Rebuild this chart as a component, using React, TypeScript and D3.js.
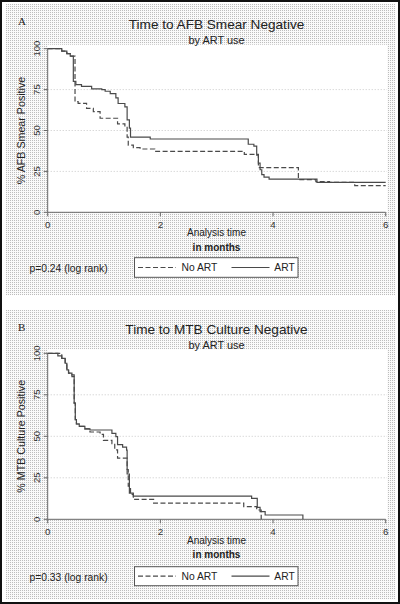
import React from "react";
import * as d3 from "d3";

const monthTicks = [0, 2, 4, 6];
const pctTicks = [0, 25, 50, 75, 100];
const gridTicks = [25, 50, 75];

const aArtTime = [0, 0.25, 0.34, 0.40, 0.455, 0.50, 0.60, 0.78, 0.96, 1.02, 1.11, 1.21, 1.25, 1.37, 1.41, 1.45, 1.47, 1.82, 3.56, 3.66, 3.71, 3.74, 3.77, 3.80, 3.84, 3.93, 4.78, 6];
const aArtPct = [100, 98.5, 97, 95.5, 80, 78, 77, 75.5, 75, 74, 72.5, 70, 66.5, 64.5, 56.5, 51.5, 46, 44.8, 41.6, 40.4, 35, 30, 26, 23, 21.5, 20.3, 18.3, 18.3];
const aNoArtTime = [0, 0.25, 0.34, 0.40, 0.485, 0.54, 0.69, 0.81, 0.93, 1.24, 1.37, 1.41, 1.43, 1.52, 1.64, 1.90, 3.49, 3.74, 4.45, 4.76, 5.0, 5.45, 6];
const aNoArtPct = [100, 98.5, 97, 95.5, 67.6, 66.6, 63.5, 61.5, 57.5, 54, 52.3, 46, 41, 39.5, 38.7, 37.3, 35.4, 27.3, 20, 18.7, 18.3, 16.3, 16.3];

const bArtTime = [0, 0.18, 0.25, 0.31, 0.34, 0.37, 0.43, 0.47, 0.49, 0.51, 0.56, 0.66, 0.75, 1.14, 1.21, 1.24, 1.33, 1.40, 1.41, 1.45, 1.52, 3.62, 3.72, 3.77, 3.86, 4.53];
const bArtPct = [100, 98.5, 97, 94, 90, 88, 87, 70, 60, 57.4, 56, 54.5, 53.8, 51.8, 49.8, 45, 43.5, 41.7, 27.3, 15.8, 14, 12.6, 7.2, 4.6, 2.6, 0];
const bNoArtTime = [0, 0.25, 0.31, 0.34, 0.37, 0.43, 0.47, 0.49, 0.51, 0.56, 0.66, 0.75, 0.93, 0.99, 1.14, 1.19, 1.24, 1.41, 1.43, 1.47, 1.52, 1.88, 3.48, 3.71, 3.79];
const bNoArtPct = [100, 97, 93, 90, 88, 86, 70, 60, 57.4, 56, 54.5, 52.6, 51.2, 47.6, 45.6, 41.8, 36.8, 30, 20, 15, 12, 9.8, 7.6, 5.6, 0];

const panelLetters = ["A", "B"];
const titles = ["Time to AFB Smear Negative", "Time to MTB Culture Negative"];
const subtitle = "by ART use";
const yTitles = ["% AFB Smear Positive", "% MTB Culture Positive"];
const xTitle = "Analysis time";
const xSubtitle = "in months";
const pValues = ["p=0.24 (log rank)", "p=0.33 (log rank)"];
const seriesNames = ["No ART", "ART"];

const FONT = "'Liberation Sans', Arial, sans-serif";
const LINE = "#4a4a4a";
const AXIS = "#666";

type Layout = {
  top: number; bottom: number; title: number; sub: number; letter: number;
  tick: number; xt: number; xs: number; legTop: number; legBot: number; p: number;
  bgTop: number; bgBot: number;
};

const layouts: Layout[] = [
  { top: 48.7, bottom: 212.3, title: 28.8, sub: 43.6, letter: 25, tick: 228, xt: 235.5, xs: 250.5, legTop: 257.7, legBot: 277.3, p: 271.5, bgTop: 4, bgBot: 295 },
  { top: 353.3, bottom: 519.3, title: 334.3, sub: 348.8, letter: 330.5, tick: 535.3, xt: 543.8, xs: 558.3, legTop: 566.7, legBot: 585.7, p: 580.5, bgTop: 310, bgBot: 599 },
];

function Panel({ idx, art, noArt }: { idx: number; art: [number, number][]; noArt: [number, number][] }) {
  const L = layouts[idx];
  const x = d3.scaleLinear().domain([0, 6]).range([47.7, 385.7]);
  const y = d3.scaleLinear().domain([0, 100]).range([L.bottom, L.top]);
  const line = d3.line<[number, number]>().x(d => x(d[0])).y(d => y(d[1])).curve(d3.curveStepAfter);
  const midY = (L.top + L.bottom) / 2;
  const legMid = (L.legTop + L.legBot) / 2;
  const legTextY = legMid + 3.8;
  return (
    <g>
      <rect x={6} y={L.bgTop} width={389} height={L.bgBot - L.bgTop} fill="url(#dots)" />
      <rect x={x(0)} y={L.top - 4} width={387 - x(0)} height={L.bottom - L.top + 4} fill="#fff" />
      {gridTicks.map(t => (
        <line key={t} x1={x(0)} x2={387} y1={y(t)} y2={y(t)} stroke="#c8c8c8" strokeWidth={1} strokeDasharray="1,2" />
      ))}
      <text x={18} y={L.letter} fontFamily="'Liberation Serif', 'Times New Roman', serif" fontSize={11} fill="#222">{panelLetters[idx]}</text>
      <text x={216.5} y={L.title} textAnchor="middle" fontFamily={FONT} fontSize={13.6} fill="#222">{titles[idx]}</text>
      <text x={216.5} y={L.sub} textAnchor="middle" fontFamily={FONT} fontSize={10.9} fill="#222">{subtitle}</text>
      {/* axes */}
      <line x1={x(0)} x2={x(0)} y1={y(0)} y2={y(100)} stroke={AXIS} strokeWidth={1} />
      <line x1={x(0)} x2={x(6)} y1={y(0)} y2={y(0)} stroke={AXIS} strokeWidth={1} />
      {pctTicks.map(t => (
        <g key={t}>
          <line x1={x(0) - 4} x2={x(0)} y1={y(t)} y2={y(t)} stroke={AXIS} />
          <text transform={`translate(39.5,${y(t)}) rotate(-90)`} textAnchor="middle" fontFamily={FONT} fontSize={9.5} fill="#333">{t}</text>
        </g>
      ))}
      {monthTicks.map(t => (
        <g key={t}>
          <line x1={x(t)} x2={x(t)} y1={y(0)} y2={y(0) + 4} stroke={AXIS} />
          <text x={x(t)} y={L.tick} textAnchor="middle" fontFamily={FONT} fontSize={9.8} fill="#333">{t}</text>
        </g>
      ))}
      <text transform={`translate(25,${midY}) rotate(-90)`} textAnchor="middle" fontFamily={FONT} fontSize={10.7} fill="#222">{yTitles[idx]}</text>
      <text x={216.5} y={L.xt} textAnchor="middle" fontFamily={FONT} fontSize={10} fill="#222">{xTitle}</text>
      <text x={216.5} y={L.xs} textAnchor="middle" fontFamily={FONT} fontSize={10} fontWeight="bold" fill="#222">{xSubtitle}</text>
      {/* curves */}
      <path d={line(noArt) || ""} fill="none" stroke={LINE} strokeWidth={1.2} strokeDasharray="5,2.5" />
      <path d={line(art) || ""} fill="none" stroke={LINE} strokeWidth={1.2} />
      {/* legend */}
      <text x={29.5} y={L.p} fontFamily={FONT} fontSize={10.3} fill="#222">{pValues[idx]}</text>
      <rect x={134.5} y={L.legTop} width={163.5} height={L.legBot - L.legTop} fill="#fff" stroke="#555" strokeWidth={1} />
      <line x1={138} x2={176} y1={legMid} y2={legMid} stroke={LINE} strokeWidth={1.2} strokeDasharray="5,2.5" />
      <text x={181.5} y={legTextY} fontFamily={FONT} fontSize={10.3} fill="#222">{seriesNames[0]}</text>
      <line x1={231.5} x2={269.5} y1={legMid} y2={legMid} stroke={LINE} strokeWidth={1.2} />
      <text x={274.3} y={legTextY} fontFamily={FONT} fontSize={10.3} fill="#222">{seriesNames[1]}</text>
    </g>
  );
}

export default function App() {
  const zip = (t: number[], p: number[]) => t.map((v, i) => [v, p[i]] as [number, number]);
  return (
    <svg width={400} height={604} style={{ position: "absolute", left: 0, top: 0, background: "#fff" }}>
      <defs>
        <pattern id="dots" width={2} height={2} patternUnits="userSpaceOnUse">
          <rect width={2} height={2} fill="#fafafa" />
          <rect width={1} height={1} fill="#bdbdbd" />
        </pattern>
      </defs>
      <rect x={0} y={0} width={400} height={604} fill="#fff" />
      <Panel idx={0} art={zip(aArtTime, aArtPct)} noArt={zip(aNoArtTime, aNoArtPct)} />
      <Panel idx={1} art={zip(bArtTime, bArtPct)} noArt={zip(bNoArtTime, bNoArtPct)} />
      <rect x={1} y={1} width={398} height={602} fill="none" stroke="#111" strokeWidth={2} />
    </svg>
  );
}
